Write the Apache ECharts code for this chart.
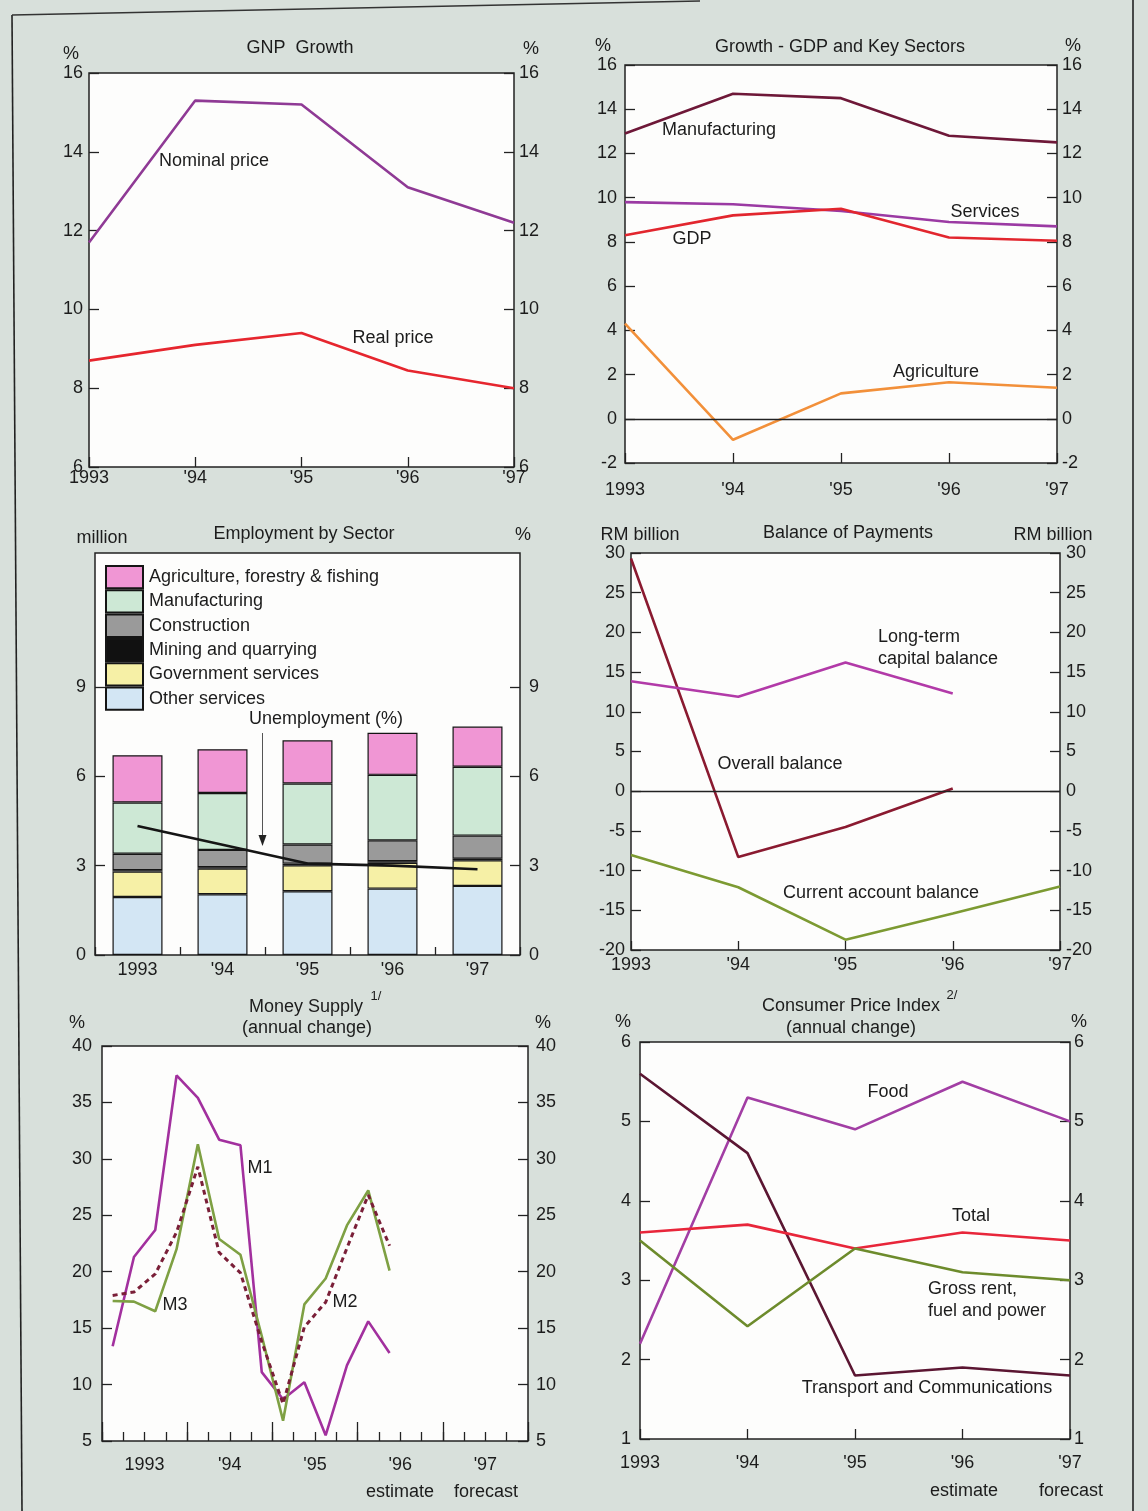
<!DOCTYPE html>
<html>
<head>
<meta charset="utf-8">
<script src="https://cdn.jsdelivr.net/npm/echarts@6.0.0/dist/echarts.min.js"></script>
<style>
  html, body { margin: 0; padding: 0; background: #d8e0db; }
  #chart { width: 1148px; height: 1511px; }
</style>
</head>
<body>
<div id="chart"></div>
<script>
// ---------------- DATA ----------------
const years = ['1993', "'94", "'95", "'96", "'97"];

// GNP Growth (%)
const gnpNominal = [11.7, 15.3, 15.2, 13.1, 12.2];
const gnpReal = [8.7, 9.1, 9.4, 8.45, 8.0];

// Growth - GDP and key sectors (%)
const growthManufacturing = [12.9, 14.7, 14.5, 12.8, 12.5];
const growthServices = [9.8, 9.7, 9.4, 8.9, 8.7];
const growthGDP = [8.3, 9.2, 9.5, 8.2, 8.05];
const growthAgriculture = [4.3, -0.95, 1.15, 1.65, 1.4];

// Employment by sector (million)
const empOther = [1.95, 2.04, 2.14, 2.23, 2.32];
const empGovernment = [0.85, 0.86, 0.87, 0.87, 0.86];
const empMining = [0.05, 0.05, 0.06, 0.05, 0.05];
const empConstruction = [0.55, 0.58, 0.64, 0.70, 0.78];
const empManufacturing = [1.72, 1.91, 2.05, 2.20, 2.31];
const empAgriculture = [1.59, 1.47, 1.45, 1.41, 1.35];
const unemploymentRate = [4.33, 3.7, 3.07, 3.0, 2.88];

// Balance of payments (RM billion)
const bopOverall = [29.3, -8.3, -4.5, 0.35];
const bopLongTermCapital = [13.85, 11.9, 16.2, 12.3];
const bopCurrentAccount = [-8.05, -12.1, -18.7, -15.4, -12.0];

// Money supply (annual change %, quarterly)
const quarters = ['93Q1','93Q2','93Q3','93Q4','94Q1','94Q2','94Q3','94Q4','95Q1','95Q2','95Q3','95Q4','96Q1','96Q2','96Q3','96Q4','97Q1','97Q2','97Q3','97Q4'];
const moneyM1 = [13.4, 21.3, 23.7, 37.4, 35.4, 31.7, 31.2, 11.1, 8.7, 10.2, 5.5, 11.7, 15.6, 12.8];
const moneyM2 = [17.9, 18.2, 19.8, 23.5, 29.3, 21.7, 19.9, 13.8, 8.3, 15.1, 17.3, 22.1, 26.8, 22.3];
const moneyM3 = [17.4, 17.35, 16.5, 22.0, 31.3, 22.9, 21.5, 14.3, 6.8, 17.1, 19.4, 24.1, 27.2, 20.1];

// Consumer price index (annual change %)
const cpiFood = [2.2, 5.3, 4.9, 5.5, 5.0];
const cpiTransport = [5.6, 4.6, 1.8, 1.9, 1.8];
const cpiTotal = [3.6, 3.7, 3.4, 3.6, 3.5];
const cpiRent = [3.5, 2.42, 3.4, 3.1, 3.0];

// ---------------- STYLE / LAYOUT ----------------
const TXT = '#1c1c1c';
const FONT = "'Liberation Sans', Arial, sans-serif";
const FS = 18;

const grids = [
  { left: 89,  top: 73,   width: 425, height: 394 },
  { left: 625, top: 65,   width: 432, height: 398 },
  { left: 95,  top: 553,  width: 425, height: 402 },
  { left: 631, top: 553,  width: 429, height: 397 },
  { left: 102, top: 1046, width: 426, height: 395 },
  { left: 640, top: 1042, width: 430, height: 397 }
].map(g => Object.assign({ show: true, backgroundColor: '#fdfdfc', borderColor: '#222', borderWidth: 1.5, containLabel: false }, g));

function yAx(gi, pos, min, max, interval, margin, extra) {
  return Object.assign({
    type: 'value', gridIndex: gi, position: pos, min, max, interval,
    axisLine: { show: false, onZero: false }, splitLine: { show: false },
    axisTick: { show: true, inside: true, length: 10, lineStyle: { color: '#222', width: 1.3 } },
    axisLabel: { color: TXT, fontSize: FS, fontFamily: FONT, margin }
  }, extra || {});
}
function xAx(gi, data, margin, boundaryGap, tickLen, extra) {
  return Object.assign({
    type: 'category', gridIndex: gi, data, boundaryGap, position: 'bottom',
    axisLine: { show: false, onZero: false }, splitLine: { show: false },
    axisTick: { show: true, inside: true, interval: 0, length: tickLen, lineStyle: { color: '#222', width: 1.3 } },
    axisLabel: { color: TXT, fontSize: FS, fontFamily: FONT, margin, interval: 0 }
  }, extra || {});
}
function line(name, data, xi, yi, color, extra) {
  return Object.assign({
    type: 'line', name, data, xAxisIndex: xi, yAxisIndex: yi, symbol: 'none',
    lineStyle: { color, width: 2.6 }, itemStyle: { color }, silent: true, z: 3
  }, extra || {});
}
const zeroLine = { silent: true, symbol: 'none', label: { show: false },
  lineStyle: { color: '#222', width: 1.3, type: 'solid' }, data: [{ yAxis: 0 }] };

const empTickVals = [0, 3, 6, 9];
const empY = (pos, margin) => yAx(2, pos, 0, 13.5, 3, margin, {
  axisTick: { show: true, inside: true, length: 10, customValues: empTickVals, lineStyle: { color: '#222', width: 1.3 } },
  axisLabel: { color: TXT, fontSize: FS, fontFamily: FONT, margin, customValues: empTickVals, formatter: v => (v > 9 ? '' : v) }
});

const xAxes = [
  xAx(0, years, 2, false, 10),
  xAx(1, years, 18, false, 10),
  xAx(2, years, 6, true, 8),
  xAx(3, years, 6, false, 9),
  xAx(4, quarters, 15, true, 9, { axisLabel: { show: false } }),
  xAx(4, years, 15, true, 19),
  xAx(5, years, 15, false, 10)
];
const yAxes = [
  yAx(0, 'left', 6, 16, 2, 6), yAx(0, 'right', 6, 16, 2, 5),
  yAx(1, 'left', -2, 16, 2, 8), yAx(1, 'right', -2, 16, 2, 5),
  empY('left', 9), empY('right', 9),
  yAx(3, 'left', -20, 30, 5, 6), yAx(3, 'right', -20, 30, 5, 6),
  yAx(4, 'left', 5, 40, 5, 10), yAx(4, 'right', 5, 40, 5, 8),
  yAx(5, 'left', 1, 6, 1, 9), yAx(5, 'right', 1, 6, 1, 4)
];

function bar(name, data, color) {
  return { type: 'bar', name, data, xAxisIndex: 2, yAxisIndex: 4, stack: 'emp', barWidth: 50,
    itemStyle: { color, borderColor: '#151515', borderWidth: 1.2 }, silent: true, z: 2 };
}

const series = [
  // GNP
  line('Nominal price', gnpNominal, 0, 0, '#8f3a95'),
  line('Real price', gnpReal, 0, 0, '#e6262e'),
  // GDP sectors
  line('Manufacturing growth', growthManufacturing, 1, 2, '#6e1838'),
  line('Services', growthServices, 1, 2, '#9b3aa3'),
  line('GDP', growthGDP, 1, 2, '#e2262e'),
  line('Agriculture', growthAgriculture, 1, 2, '#f2903a', { markLine: zeroLine }),
  // Employment
  bar('Other services', empOther, '#d3e6f4'),
  bar('Government services', empGovernment, '#f6f0a6'),
  bar('Mining and quarrying', empMining, '#111111'),
  bar('Construction', empConstruction, '#9a9a9a'),
  bar('Manufacturing', empManufacturing, '#cde8d5'),
  bar('Agriculture, forestry & fishing', empAgriculture, '#f096d4'),
  line('Unemployment', unemploymentRate, 2, 5, '#151515', { lineStyle: { color: '#151515', width: 2.6 }, z: 5 }),
  // BoP
  line('Overall balance', bopOverall, 3, 6, '#8a1a30'),
  line('Long-term capital balance', bopLongTermCapital, 3, 6, '#b23aa8'),
  line('Current account balance', bopCurrentAccount, 3, 6, '#7c9a32', { markLine: zeroLine }),
  // Money supply
  line('M1', moneyM1, 4, 8, '#a2309e'),
  line('M3', moneyM3, 4, 8, '#7ea043'),
  line('M2', moneyM2, 4, 8, '#7a1f38', { lineStyle: { color: '#7a1f38', width: 3, type: [5, 4] } }),
  // CPI
  line('Food', cpiFood, 6, 10, '#a23ea4'),
  line('Transport and Communications', cpiTransport, 6, 10, '#5b1632'),
  line('Total', cpiTotal, 6, 10, '#e8263a'),
  line('Gross rent, fuel and power', cpiRent, 6, 10, '#6d8b2c')
];

// ---------------- TEXT ANNOTATIONS ----------------
function txt(text, x, y, align, size) {
  return { type: 'text', x, y, z: 100, silent: true,
    style: { text, fill: TXT, font: (size || FS) + 'px ' + FONT,
      textAlign: align || 'center', textVerticalAlign: 'middle',
      align: align || 'center', verticalAlign: 'middle' } };
}
const texts = [
  // panel 1
  txt('GNP  Growth', 300, 48), txt('%', 71, 54), txt('%', 531, 49),
  txt('Nominal price', 214, 161), txt('Real price', 393, 338),
  // panel 2
  txt('Growth - GDP and Key Sectors', 840, 47), txt('%', 603, 46), txt('%', 1073, 46),
  txt('Manufacturing', 719, 130), txt('Services', 985, 212), txt('GDP', 692, 239), txt('Agriculture', 936, 372),
  // panel 3
  txt('Employment by Sector', 304, 534), txt('million', 102, 538), txt('%', 523, 535),
  txt('Unemployment (%)', 326, 719),
  // panel 4
  txt('Balance of Payments', 848, 533), txt('RM billion', 640, 535), txt('RM billion', 1053, 535),
  txt('Long-term', 878, 637, 'left'), txt('capital balance', 878, 659, 'left'),
  txt('Overall balance', 780, 764), txt('Current account balance', 881, 893),
  // panel 5
  txt('Money Supply', 306, 1007), txt('1/', 376, 996, 'center', 13), txt('(annual change)', 307, 1028),
  txt('%', 77, 1023), txt('%', 543, 1023),
  txt('M1', 260, 1168), txt('M3', 175, 1305), txt('M2', 345, 1302),
  txt('estimate', 400, 1492), txt('forecast', 486, 1492),
  // panel 6
  txt('Consumer Price Index', 851, 1006), txt('2/', 952, 995, 'center', 13), txt('(annual change)', 851, 1028),
  txt('%', 623, 1022), txt('%', 1079, 1022),
  txt('Food', 888, 1092), txt('Total', 971, 1216),
  txt('Gross rent,', 928, 1289, 'left'), txt('fuel and power', 928, 1311, 'left'),
  txt('Transport and Communications', 927, 1388),
  txt('estimate', 964, 1491), txt('forecast', 1071, 1491)
];
const decor = [
  // page frame
  { type: 'line', silent: true, z: 50, shape: { x1: 12, y1: 15, x2: 22, y2: 1511 }, style: { stroke: '#222', lineWidth: 1.6 } },
  { type: 'line', silent: true, z: 50, shape: { x1: 12, y1: 15, x2: 700, y2: 1 }, style: { stroke: '#333', lineWidth: 1.4 } },
  { type: 'line', silent: true, z: 50, shape: { x1: 1133, y1: 0, x2: 1133, y2: 1511 }, style: { stroke: '#222', lineWidth: 1.6 } },
  // unemployment arrow
  { type: 'line', silent: true, z: 60, shape: { x1: 262.5, y1: 733, x2: 262.5, y2: 838 }, style: { stroke: '#555', lineWidth: 1 } },
  { type: 'polygon', silent: true, z: 60, shape: { points: [[258.5, 835], [266.5, 835], [262.5, 846]] }, style: { fill: '#222' } }
];

const chart = echarts.init(document.getElementById('chart'), null, { renderer: 'canvas' });
chart.setOption({
  animation: false,
  backgroundColor: '#d8e0db',
  textStyle: { fontFamily: FONT },
  grid: grids,
  xAxis: xAxes,
  yAxis: yAxes,
  legend: {
    show: true, orient: 'vertical', left: 105, top: 565, padding: 0,
    itemWidth: 37, itemHeight: 22.3, itemGap: 0, icon: 'rect', selectedMode: false,
    data: ['Agriculture, forestry & fishing', 'Manufacturing', 'Construction', 'Mining and quarrying', 'Government services', 'Other services'],
    textStyle: { color: TXT, fontSize: FS, fontFamily: FONT, padding: [0, 0, 0, 1] }
  },
  series,
  graphic: { elements: decor.concat(texts) }
});
</script>
</body>
</html>
